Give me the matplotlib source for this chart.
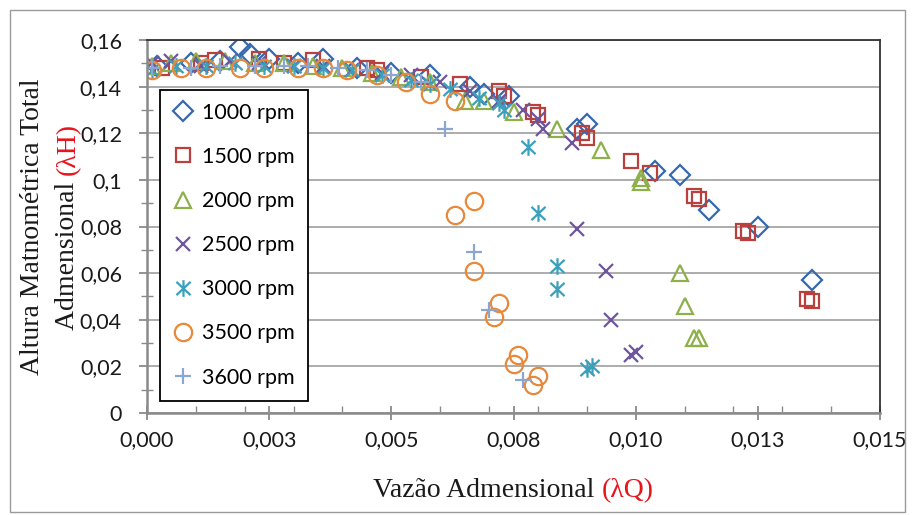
import matplotlib
matplotlib.use("Agg")
import matplotlib.pyplot as plt
from matplotlib.path import Path
from matplotlib.patches import Rectangle
from matplotlib.ticker import FixedLocator, MultipleLocator

# Vazao admensional (lambda Q) x altura admensional (lambda H) por rotacao
x_1000 = [0.0002, 0.0009, 0.0015, 0.0019, 0.0021, 0.0025, 0.0031, 0.0036, 0.0043, 0.0050,
          0.0058, 0.0066, 0.0069, 0.0074, 0.0088, 0.0090, 0.0104, 0.0109, 0.0115, 0.0125, 0.0136]
y_1000 = [0.149, 0.150, 0.151, 0.157, 0.154, 0.152, 0.150, 0.152, 0.148, 0.146,
          0.145, 0.140, 0.137, 0.136, 0.122, 0.124, 0.104, 0.102, 0.087, 0.080, 0.057]

x_1500 = [0.0003, 0.0011, 0.0014, 0.0023, 0.0028, 0.0034, 0.0045, 0.0047, 0.0056, 0.0064,
          0.0072, 0.0073, 0.0079, 0.0080, 0.0089, 0.0090, 0.0099, 0.0103, 0.0112, 0.0113,
          0.0122, 0.0123, 0.0135, 0.0136]
y_1500 = [0.148, 0.150, 0.1515, 0.152, 0.150, 0.1515, 0.148, 0.147, 0.144, 0.141,
          0.138, 0.136, 0.129, 0.128, 0.120, 0.118, 0.108, 0.103, 0.093, 0.092,
          0.078, 0.077, 0.049, 0.048]

x_2000 = [0.0001, 0.0005, 0.0010, 0.0016, 0.0022, 0.0028, 0.0034, 0.0040, 0.0046, 0.0052,
          0.0058, 0.0065, 0.0069, 0.0075, 0.0084, 0.0093, 0.0101, 0.0101, 0.0109, 0.0110,
          0.0112, 0.0113]
y_2000 = [0.149, 0.150, 0.151, 0.151, 0.150, 0.150, 0.149, 0.148, 0.146, 0.144,
          0.142, 0.134, 0.134, 0.129, 0.122, 0.113, 0.101, 0.099, 0.060, 0.046,
          0.032, 0.032]

x_2500 = [0.0001, 0.0005, 0.0011, 0.0017, 0.0023, 0.0030, 0.0036, 0.0042, 0.0048, 0.0054,
          0.0060, 0.0066, 0.0072, 0.0077, 0.0080, 0.0081, 0.0087, 0.0088, 0.0094, 0.0095,
          0.0099, 0.0100]
y_2500 = [0.150, 0.151, 0.149, 0.151, 0.150, 0.149, 0.149, 0.147, 0.146, 0.145,
          0.142, 0.138, 0.134, 0.130, 0.126, 0.122, 0.116, 0.079, 0.061, 0.040,
          0.025, 0.026]

x_3000 = [0.0001, 0.0006, 0.0012, 0.0018, 0.0024, 0.0030, 0.0036, 0.0042, 0.0048, 0.0054,
          0.0058, 0.0062, 0.0068, 0.0072, 0.0073, 0.0078, 0.0080, 0.0084, 0.0084, 0.0090,
          0.0091]
y_3000 = [0.147, 0.149, 0.149, 0.150, 0.149, 0.149, 0.148, 0.147, 0.145, 0.143,
          0.141, 0.139, 0.135, 0.133, 0.130, 0.114, 0.086, 0.063, 0.053, 0.019,
          0.020]

x_3500 = [0.0001, 0.0007, 0.0012, 0.0019, 0.0024, 0.0031, 0.0036, 0.0041, 0.0047, 0.0053,
          0.0058, 0.0063, 0.0063, 0.0067, 0.0067, 0.0072, 0.0071, 0.0076, 0.0075, 0.0079,
          0.0080]
y_3500 = [0.147, 0.148, 0.148, 0.148, 0.148, 0.148, 0.148, 0.147, 0.145, 0.142,
          0.137, 0.134, 0.085, 0.091, 0.061, 0.047, 0.041, 0.025, 0.021, 0.012,
          0.016]

x_3600 = [0.0001, 0.0009, 0.0015, 0.0022, 0.0028, 0.0033, 0.0039, 0.0045, 0.0050, 0.0056,
          0.0061, 0.0067, 0.0070, 0.0077]
y_3600 = [0.148, 0.148, 0.149, 0.149, 0.149, 0.149, 0.148, 0.147, 0.145, 0.142,
          0.122, 0.069, 0.044, 0.014]

labels = ["1000 rpm", "1500 rpm", "2000 rpm", "2500 rpm", "3000 rpm", "3500 rpm", "3600 rpm"]

x_ticks = [0.0, 0.0025, 0.005, 0.0075, 0.01, 0.0125, 0.015]
x_tick_labels = ["0,000", "0,003", "0,005", "0,008", "0,010", "0,013", "0,015"]
y_ticks = [0.0, 0.02, 0.04, 0.06, 0.08, 0.10, 0.12, 0.14, 0.16]
y_tick_labels = ["0", "0,02", "0,04", "0,06", "0,08", "0,1", "0,12", "0,14", "0,16"]

# asterisco estilo Excel: traço vertical + X
star = Path([(0, -1), (0, 1), (-0.85, -0.8), (0.85, 0.8), (-0.85, 0.8), (0.85, -0.8)],
            [Path.MOVETO, Path.LINETO, Path.MOVETO, Path.LINETO, Path.MOVETO, Path.LINETO])

series = [
    (x_1000, y_1000, "D", 10, "#3569AE"),
    (x_1500, y_1500, "s", 10.5, "#B9403C"),
    (x_2000, y_2000, "^", 11, "#8DB04B"),
    (x_2500, y_2500, "x", 10, "#6E559E"),
    (x_3000, y_3000, star, 12, "#3BA0BC"),
    (x_3500, y_3500, "o", 12.5, "#E8883A"),
    (x_3600, y_3600, "+", 11.5, "#8CA6D4"),
]

W, H = 915, 515
fig = plt.figure(figsize=(W / 100, H / 100), dpi=100)
ax = fig.add_axes([147 / W, 1 - 413 / H, 733 / W, 373 / H])

for (xs, ys, mk, ms, col), lab in zip(series, labels):
    ax.plot(xs, ys, linestyle="none", marker=mk, markersize=ms,
            markerfacecolor="none", markeredgecolor=col, markeredgewidth=1.6,
            label=lab)

ax.set_xlim(0, 0.015)
ax.set_ylim(0, 0.16)
ax.xaxis.set_major_locator(FixedLocator(x_ticks))
ax.set_xticklabels(x_tick_labels)
ax.xaxis.set_minor_locator(MultipleLocator(0.001))
ax.yaxis.set_major_locator(FixedLocator(y_ticks))
ax.set_yticklabels(y_tick_labels)
ax.yaxis.set_minor_locator(MultipleLocator(0.01))

for lab in ax.get_xticklabels() + ax.get_yticklabels():
    lab.set_fontfamily("Lato")
    lab.set_fontsize(15.5)
    lab.set_color("#1a1a1a")

ax.tick_params(axis="x", which="major", direction="inout", length=10, width=1.3,
               color="#8a8a8a", pad=7)
ax.tick_params(axis="x", which="minor", direction="in", length=5, width=1.0, color="#8a8a8a")
ax.tick_params(axis="y", which="major", direction="out", length=6, width=1.3,
               color="#8a8a8a", pad=12)
ax.tick_params(axis="y", which="minor", direction="inout", length=8, width=1.0, color="#8a8a8a")

ax.yaxis.grid(True, color="#a6a6a6", linewidth=1.3)
ax.set_axisbelow(True)
for s in ["left", "bottom"]:
    ax.spines[s].set_color("#8a8a8a")
    ax.spines[s].set_linewidth(1.8)
for s in ["top", "right"]:
    ax.spines[s].set_color("#333333")
    ax.spines[s].set_linewidth(1.3)

leg = ax.legend(loc="upper left", bbox_to_anchor=(13 / 733, 323 / 373),
                prop={"family": "Lato", "size": 15.5}, frameon=True, fancybox=False,
                edgecolor="black", framealpha=1, labelspacing=1.12, handlelength=0.9,
                handletextpad=0.45, borderpad=0.6, borderaxespad=0)
leg.get_frame().set_linewidth(1.3)

# titulos dos eixos com a parte lambda em vermelho
renderer = fig.canvas.get_renderer()
serif = {"family": "Liberation Serif", "size": 20}


def text_width(s):
    t = fig.text(0, 0, s, fontdict=serif)
    w = t.get_window_extent(renderer).width
    t.remove()
    return w


# eixo x
xa, xb = "Vazão Admensional ", "(λQ)"
wa, wb = text_width(xa), text_width(xb)
cx = (147 + 880) / 2
x0 = cx - (wa + wb) / 2
fig.text(x0 / W, 1 - 497 / H, xa, fontdict=serif, color="#1a1a1a", ha="left", va="baseline")
fig.text((x0 + wa) / W, 1 - 497 / H, xb, fontdict=serif, color="#e8141c", ha="left", va="baseline")

# eixo y, duas linhas
cy = H - (40 + 413) / 2
fig.text(33 / W, cy / H, "Altura Matnométrica Total", fontdict=serif, color="#1a1a1a",
         rotation=90, ha="center", va="center")
ya, yb = "Admensional ", "(λH)"
wa, wb = text_width(ya), text_width(yb)
y0 = cy - (wa + wb) / 2
fig.text(68 / W, y0 / H, ya, fontdict=serif, color="#1a1a1a", rotation=90,
         ha="center", va="bottom")
fig.text(68 / W, (y0 + wa) / H, yb, fontdict=serif, color="#e8141c", rotation=90,
         ha="center", va="bottom")

# moldura externa do grafico
fig.patches.append(Rectangle((10 / W, 3 / H), 895 / W, 502 / H, transform=fig.transFigure,
                             fill=False, edgecolor="#9a9a9a", linewidth=1.0))

fig.savefig("out.png", dpi=100)
